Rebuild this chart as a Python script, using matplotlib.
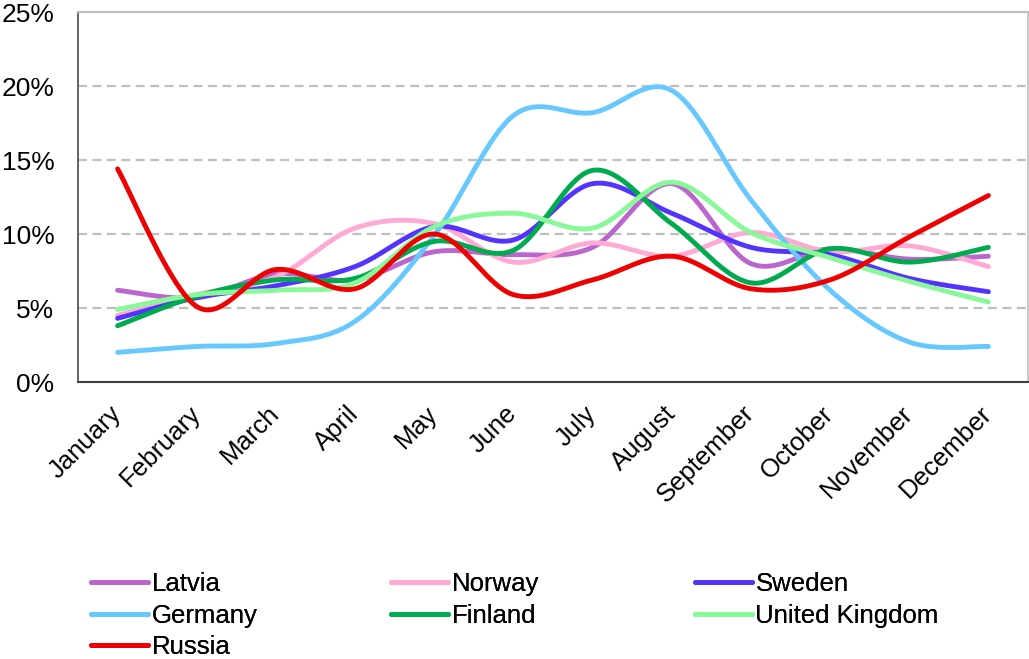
import numpy as np
import matplotlib
matplotlib.use('Agg')
import matplotlib.pyplot as plt

plt.rcParams['font.family'] = ['Liberation Sans', 'DejaVu Sans']

months = ['January', 'February', 'March', 'April', 'May', 'June', 'July',
          'August', 'September', 'October', 'November', 'December']

latvia = [6.2, 5.7, 7.3, 6.9, 8.8, 8.6, 9.1, 13.4, 8.0, 9.0, 8.3, 8.5]
norway = [4.5, 5.9, 7.1, 10.4, 10.7, 8.1, 9.4, 8.5, 10.1, 8.8, 9.2, 7.8]
sweden = [4.3, 5.7, 6.5, 7.8, 10.5, 9.6, 13.4, 11.4, 9.1, 8.6, 7.0, 6.1]
germany = [2.0, 2.4, 2.6, 4.1, 9.9, 18.0, 18.2, 19.7, 12.3, 6.2, 2.7, 2.4]
finland = [3.8, 5.8, 6.9, 7.0, 9.5, 8.9, 14.3, 10.7, 6.7, 9.0, 8.1, 9.1]
uk = [4.9, 5.9, 6.2, 6.7, 10.5, 11.4, 10.4, 13.5, 10.1, 8.4, 6.8, 5.4]
russia = [14.4, 5.1, 7.6, 6.3, 10.0, 5.9, 6.9, 8.5, 6.3, 6.9, 9.8, 12.6]

names = ['Latvia', 'Norway', 'Sweden', 'Germany', 'Finland', 'United Kingdom', 'Russia']
series = [latvia, norway, sweden, germany, finland, uk, russia]
colors = ['#bb66cc', '#ffaad4', '#5533ff', '#66c8ff', '#00aa4e', '#88f899', '#ee0000']


def smooth(xs, ys, n=40):
    # excel-like smoothing: bezier segments with catmull-rom control points
    p = np.column_stack([xs, ys]).astype(float)
    p = np.vstack([p[0], p, p[-1]])
    t = np.linspace(0, 1, n)[:, None]
    out = []
    for i in range(1, len(p) - 2):
        p0, p1, p2, p3 = p[i - 1], p[i], p[i + 1], p[i + 2]
        c1 = p1 + (p2 - p0) / 6
        c2 = p2 - (p3 - p1) / 6
        seg = ((1 - t) ** 3) * p1 + 3 * ((1 - t) ** 2) * t * c1 + 3 * (1 - t) * t ** 2 * c2 + t ** 3 * p2
        out.append(seg if i == 1 else seg[1:])
    out = np.vstack(out)
    return out[:, 0], out[:, 1]


fig = plt.figure(figsize=(10.29, 6.59), dpi=100)
ax = fig.add_axes([78 / 1029, 277 / 659, 950 / 1029, 370 / 659])

x = np.arange(len(months))
handles = {}
for name, vals, col in zip(names, series, colors):
    sx, sy = smooth(x, np.array(vals) / 100)
    ln, = ax.plot(sx, sy, color=col, lw=3.5, solid_capstyle='round')
    handles[name] = ln

ax.set_xlim(-0.5, len(months) - 0.5)
ax.set_ylim(0, 0.25)
ax.set_yticks([0, 0.05, 0.10, 0.15, 0.20, 0.25])
ax.set_yticklabels(['0%', '5%', '10%', '15%', '20%', '25%'], fontsize=19)
ax.set_xticks(x)
ax.set_xticklabels(months, fontsize=18.5, rotation=45, ha='right',
                   rotation_mode='anchor', va='center')
ax.tick_params(axis='both', length=0)
ax.tick_params(axis='y', pad=17)
ax.tick_params(axis='x', pad=20)

for yv in [0.05, 0.10, 0.15, 0.20]:
    ax.axhline(yv, color='#bfbfbf', lw=1.6, ls=(0, (4, 2.5)), zorder=0)

ax.spines['top'].set_color('#bfbfbf')
ax.spines['right'].set_color('#bfbfbf')
ax.spines['top'].set_linewidth(1.6)
ax.spines['right'].set_linewidth(1.2)
ax.spines['left'].set_color('#595959')
ax.spines['bottom'].set_color('#404040')
ax.spines['left'].set_linewidth(1.3)
ax.spines['bottom'].set_linewidth(1.5)

# legend in three columns, row-major like the original
cols = [['Latvia', 'Germany', 'Russia'], ['Norway', 'Finland'], ['Sweden', 'United Kingdom']]
lefts = [91, 391, 695]
for names_c, left in zip(cols, lefts):
    leg = fig.legend([handles[n] for n in names_c], names_c, loc='upper left',
                     bbox_to_anchor=(left / 1029, 1 - 572 / 659), frameon=False,
                     fontsize=18.5, handlelength=2.2, handletextpad=0.15,
                     borderpad=0, borderaxespad=0, labelspacing=0.3)
    fig.add_artist(leg)

fig.savefig('out.png', dpi=100)
